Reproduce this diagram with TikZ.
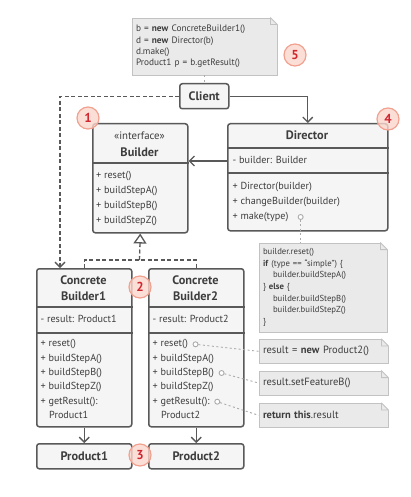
\documentclass[tikz,border=0pt]{standalone}
\usepackage{fontspec}
\setmainfont{PT Sans}
\usetikzlibrary{positioning,arrows.meta}

\definecolor{ink}{HTML}{3D3D3D}
\definecolor{edge}{HTML}{595959}
\definecolor{boxbg}{HTML}{F5F5F5}
\definecolor{notebg}{HTML}{EAEAEA}
\definecolor{noteline}{HTML}{C2C2C2}
\definecolor{dotline}{HTML}{ABABAB}
\definecolor{badgebg}{HTML}{FBD8CE}
\definecolor{badgeline}{HTML}{F2A190}
\definecolor{badgetxt}{HTML}{D1252F}

% folded corner of a note
\newcommand{\dogear}[1]{%
  \fill[white] ([shift={(-8pt,1pt)}]#1.north east) -- ([shift={(1pt,1pt)}]#1.north east) -- ([shift={(1pt,-8pt)}]#1.north east) -- cycle;
  \draw[noteline,line width=0.8pt,line join=round] ([xshift=-7pt]#1.north east) -- ([yshift=-7pt]#1.north east) -- ([shift={(-7pt,-7pt)}]#1.north east) -- cycle;}

\begin{document}
\begin{tikzpicture}[x=1pt,y=-1pt]
\tikzstyle{every node}=[text=ink]
\tikzstyle{cls}=[draw=edge,fill=boxbg,line width=1.5pt,rounded corners=2.5pt,anchor=north west,inner sep=0]
\tikzstyle{hdr}=[font=\fontsize{12.3}{16}\selectfont\bfseries,align=center]
\tikzstyle{mem}=[font=\fontsize{10.2}{12}\selectfont,anchor=west,inner sep=0,text height=7pt,text depth=2pt]
\tikzstyle{sep}=[draw=edge,line width=1.5pt]
\tikzstyle{note}=[fill=notebg,draw=noteline,line width=0.8pt,inner sep=4pt,align=left]
\tikzstyle{badge}=[circle,fill=badgebg,draw=badgeline,line width=1.2pt,minimum size=22pt,inner sep=0,fill opacity=0.8,text opacity=1,text=badgetxt,font=\fontsize{13}{13}\selectfont\bfseries]
\tikzstyle{port}=[circle,draw=dotline,fill=white,line width=0.9pt,minimum size=5pt,inner sep=0]
\tikzstyle{assoc}=[draw=edge,line width=1.3pt,-{Straight Barb[length=5pt,width=10pt]}]
\tikzstyle{dep}=[assoc,dash pattern=on 4pt off 2.5pt]
\tikzstyle{impl}=[draw=edge,line width=1.3pt,dash pattern=on 4pt off 2.5pt]
\tikzstyle{dots}=[draw=dotline,line width=0.9pt,dash pattern=on 2pt off 2.5pt]

\path[use as bounding box,fill=white] (0,0) rectangle (410,497);

% client and its note
\node[cls,hdr,minimum width=49pt,minimum height=25pt] (client) at (179,83) {Client};
\node[note,minimum width=145pt,minimum height=57pt,text width=137pt,font=\fontsize{9.3}{11.3}\selectfont] (n-client) at (204.5,46.5)
  {b = \textbf{new} ConcreteBuilder1()\\d = \textbf{new} Director(b)\\d.make()\\Product1 p = b.getResult()};
\dogear{n-client}
\draw[dots] (client.north |- n-client.south) -- (client.north);

% builder interface
\node[cls,minimum width=95pt,minimum height=109pt] (builder) at (92,123) {};
\draw[sep] ([yshift=-40pt]builder.north west) -- ([yshift=-40pt]builder.north east);
\node[font=\fontsize{10.8}{12}\selectfont] (b-st) at (139.5,136) {«interface»};
\node[hdr] (b-name) at (139.5,152) {Builder};
\foreach \m [count=\i from 0] in {reset(),buildStepA(),buildStepB(),buildStepZ()}
  \node[mem] (b-m\i) at (96,176+14.9*\i) {+ \m};

% director
\node[cls,minimum width=160pt,minimum height=107pt] (director) at (227,123) {};
\draw[sep] ([yshift=-25pt]director.north west) -- ([yshift=-25pt]director.north east);
\draw[sep] ([yshift=-50pt]director.north west) -- ([yshift=-50pt]director.north east);
\node[hdr] (d-name) at (307,135.5) {Director};
\node[mem] (d-f) at (232.5,161) {- builder: Builder};
\foreach \m [count=\i from 0] in {Director(builder),changeBuilder(builder),make(type)}
  \node[mem] (d-m\i) at (232.5,187+15*\i) {+ \m};
\node[port,right=9pt of d-m2] (d-p) {};
\node[note,minimum width=128pt,minimum height=89pt,text width=120pt,font=\fontsize{8.7}{11.7}\selectfont] (n-dir) at (323,287.5)
  {builder.reset()\\\textbf{if} (type == ``simple'') \{\\\hspace*{10pt}builder.buildStepA()\\\} \textbf{else} \{\\\hspace*{10pt}builder.buildStepB()\\\hspace*{10pt}builder.buildStepZ()\\\}};
\dogear{n-dir}
\draw[dots] (d-p) -- (d-p |- n-dir.north);

% concrete builders and products
\foreach \k/\x in {1/36,2/148} {
  \node[cls,minimum width=95pt,minimum height=158pt] (cb\k) at (\x,268) {};
  \draw[sep] ([yshift=-39pt]cb\k.north west) -- ([yshift=-39pt]cb\k.north east);
  \draw[sep] ([yshift=-65pt]cb\k.north west) -- ([yshift=-65pt]cb\k.north east);
  \node[hdr] (cb\k-name) at (\x+47.5,288) {Concrete\\Builder\k};
  \node[mem] (cb\k-f) at (\x+4.5,320) {- result: Product\k};
  \foreach \m [count=\i from 0] in {reset(),buildStepA(),buildStepB(),buildStepZ(),getResult():}
    \node[mem] (cb\k-m\i) at (\x+4.5,344.3+14.35*\i) {+ \m};
  \node[mem] (cb\k-m5) at (\x+13,416) {Product\k};
  \node[cls,hdr,minimum width=95pt,minimum height=25pt] (prod\k) at (\x,443) {Product\k};
  \draw[assoc] (cb\k) -- (prod\k);
}

% notes of builder 2
\node[port,right=4.5pt of cb2-m0] (p-reset) {};
\node[port,right=4.5pt of cb2-m2] (p-stepb) {};
\node[port,right=4.5pt of cb2-m4] (p-result) {};
\tikzstyle{snote}=[note,minimum width=129pt,minimum height=24pt,text width=121pt,font=\fontsize{10.5}{12}\selectfont]
\node[snote] (n-reset) at (323.5,351.3) {result = \textbf{new} Product2()};
\node[snote] (n-stepb) at (323.5,383) {result.setFeatureB()};
\node[snote] (n-result) at (323.5,415.3) {\textbf{return this}.result};
\dogear{n-reset}
\dogear{n-stepb}
\dogear{n-result}
\draw[dots] (p-reset) -- (n-reset.west);
\draw[dots] (p-stepb) -- (n-stepb.west);
\draw[dots] (p-result) -- (n-result.west);

% connectors
\draw[assoc] (client.east) -| (director.north);
\draw[dep] (client.west) -| ([xshift=24pt]cb1.north west);
\draw[assoc] (d-f -| director.west) -- (d-f -| builder.east);
\coordinate (fork) at (139.5,260);
\draw[impl] (cb1.north) |- (fork) -| (cb2.north);
\draw[impl,-{Triangle[open,length=10pt,width=13pt]}] (fork) -- (builder.south);

% numbers
\node[badge] (num1) at (88,118) {1};
\node[badge] (num2) at (140,287) {2};
\node[badge] (num3) at (140,455) {3};
\node[badge] (num4) at (388,119) {4};
\node[badge] (num5) at (295,55) {5};
\end{tikzpicture}
\end{document}
